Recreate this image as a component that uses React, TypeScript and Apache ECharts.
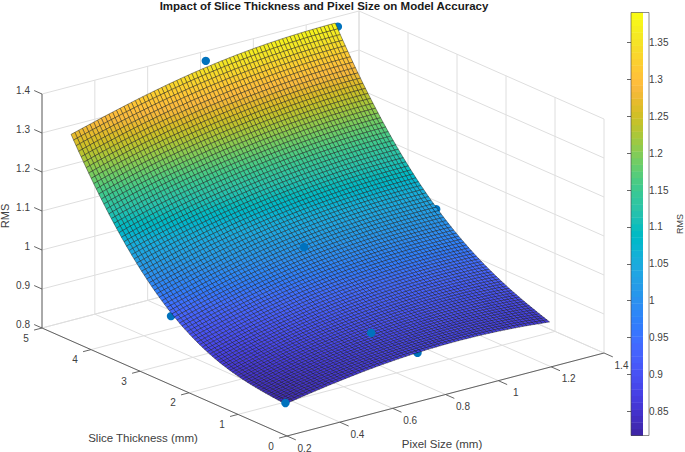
import React, { useEffect, useRef } from "react";
import * as echarts from "echarts";

// ---- Data ----
const pixelTicks = [0.2, 0.4, 0.6, 0.8, 1, 1.2, 1.4];
const sliceTicks = [0, 1, 2, 3, 4, 5];
const rmsTicks = [0.8, 0.9, 1, 1.1, 1.2, 1.3, 1.4];
const colorbarTicks = [0.85, 0.9, 0.95, 1, 1.05, 1.1, 1.15, 1.2, 1.25, 1.3, 1.35];
const colorLimits = [0.817, 1.391];

// Surface samples (5 x 5). The fine mesh drawn below is
// a smooth rendering between these read samples; the in-between cells are not read values.
const surfacePixelSize = [0.31, 0.56, 0.81, 1.06, 1.31];
const surfaceSlice = [0.625, 1.72, 2.81, 3.91, 5];
const rmsSlice1 = [0.828, 0.855, 0.871, 0.873, 0.861];
const rmsSlice2 = [0.85, 0.886, 0.909, 0.92, 0.918];
const rmsSlice3 = [0.918, 0.96, 0.991, 1.008, 1.012];
const rmsSlice4 = [1.06, 1.106, 1.138, 1.158, 1.165];
const rmsSlice5 = [1.277, 1.322, 1.357, 1.378, 1.385];
const surfaceRms = [rmsSlice1, rmsSlice2, rmsSlice3, rmsSlice4, rmsSlice5];

// Measured points
const pointPixelSize = [0.31, 0.81, 0.81, 0.81, 1.31, 0.31, 0.82, 1.32];
const pointSlice = [0.625, 0.625, 1.57, 2.94, 2.94, 2.96, 5, 5];
const pointRms = [0.8305, 0.8705, 0.869, 1.0135, 1.022, 0.924, 1.375, 1.374];
const pointOnTop = [true, false, true, true, false, false, false, false];

const parula = [
  [0.2422,0.1504,0.6603],[0.2504,0.165,0.7076],[0.2578,0.1818,0.7511],[0.2647,0.1978,0.7952],
  [0.2706,0.2147,0.8364],[0.2751,0.2342,0.871],[0.2783,0.2559,0.8991],[0.2803,0.2782,0.9221],
  [0.2813,0.3006,0.9414],[0.281,0.3228,0.9579],[0.2795,0.3447,0.9717],[0.276,0.3667,0.9829],
  [0.2699,0.3892,0.9906],[0.2602,0.4123,0.9952],[0.244,0.4358,0.9988],[0.2206,0.4603,0.9973],
  [0.1963,0.4847,0.9892],[0.1834,0.5074,0.9798],[0.1786,0.5289,0.9682],[0.1764,0.5499,0.952],
  [0.1687,0.5703,0.9359],[0.154,0.5902,0.9218],[0.146,0.6091,0.9079],[0.138,0.6276,0.8973],
  [0.1248,0.6459,0.8883],[0.1113,0.6635,0.8763],[0.0952,0.6798,0.8598],[0.0689,0.6948,0.8394],
  [0.0297,0.7082,0.8163],[0.0036,0.7203,0.7917],[0.0067,0.7312,0.766],[0.0433,0.7411,0.7394],
  [0.0964,0.75,0.712],[0.1408,0.7584,0.6842],[0.1717,0.767,0.6554],[0.1938,0.7758,0.6251],
  [0.2161,0.7843,0.5923],[0.247,0.7918,0.5567],[0.2906,0.7973,0.5188],[0.3406,0.8008,0.4789],
  [0.3909,0.8029,0.4354],[0.4456,0.8024,0.3909],[0.5044,0.7993,0.348],[0.5616,0.7942,0.3045],
  [0.6174,0.7876,0.2612],[0.672,0.7793,0.2227],[0.7242,0.7698,0.191],[0.7738,0.7598,0.1646],
  [0.8203,0.7498,0.1535],[0.8634,0.7406,0.1596],[0.9035,0.733,0.1774],[0.9393,0.7288,0.21],
  [0.9728,0.7298,0.2394],[0.9956,0.7434,0.2371],[0.997,0.7659,0.2199],[0.9952,0.7893,0.2028],
  [0.9892,0.8136,0.1885],[0.9786,0.8386,0.1766],[0.9676,0.8639,0.1643],[0.961,0.889,0.1537],
  [0.9597,0.9135,0.1423],[0.9628,0.9373,0.1265],[0.9691,0.9606,0.1064],[0.9769,0.9839,0.0805],
];

// ---- Scales ----
const W = 685, H = 452;
const MESH_X = 70, MESH_Y = 85;
const TEXT = "#404040", GRID = "#dedede", AXIS = "#555555";
const FONT = "'Liberation Sans', Arial, sans-serif";
const xMin = 0.2, xMax = 1.4, yMin = 0, yMax = 5, zMin = 0.8, zMax = 1.4;

// Orthographic view of the 3D box, onto the page-sized hidden axes
function project(x: number, y: number, z: number): number[] {
  const fx = (x - xMin) / (xMax - xMin);
  const fy = (y - yMin) / (yMax - yMin);
  const fz = (z - zMin) / (zMax - zMin);
  return [287 + 317 * fx - 245 * fy, 436 - 83 * fx - 108 * fy - 234 * fz];
}

function lagrange(xs: number[], v: number, i: number) {
  let out = 1;
  xs.forEach((x, k) => { if (k !== i) out *= (v - x) / (xs[i] - x); });
  return out;
}
function surfaceAt(x: number, y: number) {
  let out = 0;
  surfaceSlice.forEach((_, r) => surfacePixelSize.forEach((_, c) => {
    out += surfaceRms[r][c] * lagrange(surfaceSlice, y, r) * lagrange(surfacePixelSize, x, c);
  }));
  return out;
}
function colorOf(v: number) {
  const t = Math.max(0, Math.min(1, (v - colorLimits[0]) / (colorLimits[1] - colorLimits[0]))) * (parula.length - 1);
  const i = Math.min(parula.length - 2, Math.floor(t));
  const c = parula[i].map((p, k) => Math.round(255 * (p + (parula[i + 1][k] - p) * (t - i))));
  return `rgb(${c[0]},${c[1]},${c[2]})`;
}

// ---- Derived mesh ----
const xFirst = surfacePixelSize[0], xLast = surfacePixelSize[surfacePixelSize.length - 1];
const yFirst = surfaceSlice[0], yLast = surfaceSlice[surfaceSlice.length - 1];
const meshZ: number[][] = [];
for (let j = 0; j <= MESH_Y; j++) {
  const row: number[] = [];
  for (let i = 0; i <= MESH_X; i++) {
    row.push(surfaceAt(xFirst + ((xLast - xFirst) * i) / MESH_X, yFirst + ((yLast - yFirst) * j) / MESH_Y));
  }
  meshZ.push(row);
}
const cells: number[][] = [];
for (let j = MESH_Y - 1; j >= 0; j--) for (let i = MESH_X - 1; i >= 0; i--) cells.push([i, j]);

// ---- Box lines ----
type Seg = { a: number[]; b: number[]; color: string; width: number };
const gridSegs: Seg[] = [];
const seg = (a: number[], b: number[]): Seg => ({ a, b, color: GRID, width: 1 });
pixelTicks.forEach((x) => {
  gridSegs.push(seg([x, yMin, zMin], [x, yMax, zMin]));
  gridSegs.push(seg([x, yMax, zMin], [x, yMax, zMax]));
});
sliceTicks.forEach((y) => {
  gridSegs.push(seg([xMin, y, zMin], [xMax, y, zMin]));
  gridSegs.push(seg([xMax, y, zMin], [xMax, y, zMax]));
});
rmsTicks.forEach((z) => {
  gridSegs.push(seg([xMin, yMax, z], [xMax, yMax, z]));
  gridSegs.push(seg([xMax, yMax, z], [xMax, yMin, z]));
});
const axisSegs: Seg[] = [];
const aseg = (a: number[], b: number[]): Seg => ({ a, b, color: AXIS, width: 0.9 });
axisSegs.push(aseg([xMin, yMin, zMin], [xMax, yMin, zMin]));
axisSegs.push(aseg([xMin, yMin, zMin], [xMin, yMax, zMin]));
axisSegs.push(aseg([xMin, yMax, zMin], [xMin, yMax, zMax]));
pixelTicks.forEach((x) => axisSegs.push(aseg([x, yMin, zMin], [x, yMin - 0.18, zMin])));
sliceTicks.forEach((y) => axisSegs.push(aseg([xMin, y, zMin], [xMin - 0.03, y, zMin])));
rmsTicks.forEach((z) => axisSegs.push(aseg([xMin, yMax, z], [xMin, yMax + 0.16, z])));

// ---- Texts ----
type Lab = { text: string; at: number[]; dx: number; dy: number; align: string };
const labels: Lab[] = [
  ...pixelTicks.map((x) => ({ text: String(x), at: [x, yMin, zMin], dx: 17.5, dy: 12, align: "center" })),
  ...sliceTicks.map((y) => ({ text: String(y), at: [xMin, y, zMin], dx: -16, dy: 10, align: "center" })),
  ...rmsTicks.map((z) => ({ text: z === 1 ? "1" : z.toFixed(1), at: [xMin, yMax, z], dx: -12, dy: -3.5, align: "right" })),
];

const pageAxes = { xAxisIndex: 0, yAxisIndex: 0, coordinateSystem: "cartesian2d", clip: false, silent: true, progressive: 0 };

function segSeries(segs: Seg[], z: number) {
  return {
    type: "custom", ...pageAxes, z,
    data: segs.map((_, i) => [i]),
    renderItem: (p: any, api: any) => {
      const s = segs[p.dataIndex];
      const a = api.coord(project(s.a[0], s.a[1], s.a[2]));
      const b = api.coord(project(s.b[0], s.b[1], s.b[2]));
      return { type: "line", shape: { x1: a[0], y1: a[1], x2: b[0], y2: b[1] }, style: { stroke: s.color, lineWidth: s.width } };
    },
  };
}

function pointSeries(onTop: boolean, z: number) {
  const idx = pointOnTop.map((f, i) => (f === onTop ? i : -1)).filter((i) => i >= 0);
  return {
    type: "custom", ...pageAxes, z,
    data: idx.map((i) => [i]),
    renderItem: (p: any, api: any) => {
      const i = idx[p.dataIndex];
      const c = api.coord(project(pointPixelSize[i], pointSlice[i], pointRms[i]));
      return { type: "circle", shape: { cx: c[0], cy: c[1], r: 4.2 }, style: { fill: "#0072BD" } };
    },
  };
}

function buildOption() {
  return {
    animation: false,
    title: {
      text: "Impact of Slice Thickness and Pixel Size on Model Accuracy",
      left: 319, top: -5, textAlign: "center",
      textStyle: { fontFamily: FONT, fontSize: 11.5, fontWeight: "bold", color: "#1a1a1a" },
    },
    grid: [
      { left: 0, top: 0, width: W, height: H },
      { left: 631, top: 12.5, width: 18, height: 423 },
    ],
    xAxis: [
      { type: "value", gridIndex: 0, min: 0, max: W, show: false },
      { type: "value", gridIndex: 1, min: 0, max: 1, show: false },
    ],
    yAxis: [
      { type: "value", gridIndex: 0, min: 0, max: H, inverse: true, show: false },
      {
        type: "value", gridIndex: 1, min: colorLimits[0], max: colorLimits[1], position: "right",
        axisLine: { show: false }, splitLine: { show: false },
        axisTick: { show: true, inside: true, length: 4, customValues: colorbarTicks, lineStyle: { color: "#404040", width: 0.8 } },
        axisLabel: { margin: 6, customValues: colorbarTicks, formatter: (v: number) => String(v), fontFamily: FONT, fontSize: 10, color: TEXT },
        name: "RMS", nameLocation: "middle", nameRotate: 90, nameGap: 32,
        nameTextStyle: { fontFamily: FONT, fontSize: 9, color: TEXT },
      },
    ],
    graphic: [
      { type: "rect", z: 50, silent: true, shape: { x: 631, y: 12.5, width: 18, height: 423 }, style: { fill: "none", stroke: "#404040", lineWidth: 0.6 } },
      { type: "text", z: 50, silent: true, x: 143, y: 438, style: { text: "Slice Thickness (mm)", fontFamily: FONT, fontSize: 11.5, fill: TEXT, align: "center", verticalAlign: "middle" } },
      { type: "text", z: 50, silent: true, x: 442, y: 444, style: { text: "Pixel Size (mm)", fontFamily: FONT, fontSize: 11.5, fill: TEXT, align: "center", verticalAlign: "middle" } },
      { type: "text", z: 50, silent: true, x: 5, y: 216, rotation: Math.PI / 2, style: { text: "RMS", fontFamily: FONT, fontSize: 11, fill: TEXT, align: "center", verticalAlign: "middle" } },
    ],
    series: [
      segSeries(gridSegs, 1),
      pointSeries(false, 2),
      {
        type: "custom", ...pageAxes, z: 3,
        data: cells.map((_, i) => [i]),
        renderItem: (p: any, api: any) => {
          const [i, j] = cells[p.dataIndex];
          const corner = (ci: number, cj: number) =>
            api.coord(project(
              xFirst + ((xLast - xFirst) * ci) / MESH_X,
              yFirst + ((yLast - yFirst) * cj) / MESH_Y,
              meshZ[cj][ci],
            ));
          const mean = (meshZ[j][i] + meshZ[j][i + 1] + meshZ[j + 1][i] + meshZ[j + 1][i + 1]) / 4;
          return {
            type: "polygon",
            shape: { points: [corner(i, j), corner(i + 1, j), corner(i + 1, j + 1), corner(i, j + 1)] },
            style: { fill: colorOf(mean), stroke: "#111111", lineWidth: 0.42 },
          };
        },
      },
      pointSeries(true, 4),
      segSeries(axisSegs, 5),
      {
        type: "custom", ...pageAxes, z: 6,
        data: labels.map((_, i) => [i]),
        renderItem: (p: any, api: any) => {
          const l = labels[p.dataIndex];
          const c = api.coord(project(l.at[0], l.at[1], l.at[2]));
          return {
            type: "text", x: c[0] + l.dx, y: c[1] + l.dy,
            style: { text: l.text, fontFamily: FONT, fontSize: 10, fill: TEXT, align: l.align, verticalAlign: "middle" },
          };
        },
      },
      {
        type: "custom", xAxisIndex: 1, yAxisIndex: 1, coordinateSystem: "cartesian2d", silent: true, z: 7,
        data: parula.map((_, i) => [i]),
        renderItem: (p: any, api: any) => {
          const i = p.dataIndex;
          const span = colorLimits[1] - colorLimits[0];
          const lo = api.coord([0, colorLimits[0] + (span * i) / parula.length]);
          const hi = api.coord([1, colorLimits[0] + (span * (i + 1)) / parula.length]);
          const c = parula[i].map((v) => Math.round(v * 255));
          const fill = `rgb(${c[0]},${c[1]},${c[2]})`;
          return {
            type: "rect",
            shape: { x: lo[0], y: hi[1], width: hi[0] - lo[0], height: lo[1] - hi[1] + 0.4 },
            style: { fill },
          };
        },
      },
    ],
  };
}

export default function App() {
  const ref = useRef<HTMLDivElement>(null);
  useEffect(() => {
    const chart = echarts.init(ref.current as HTMLDivElement, undefined, { renderer: "svg" });
    chart.setOption(buildOption() as any);
    return () => chart.dispose();
  }, []);
  return <div ref={ref} style={{ position: "fixed", left: 0, top: 0, width: W, height: H, background: "#fff" }} />;
}
